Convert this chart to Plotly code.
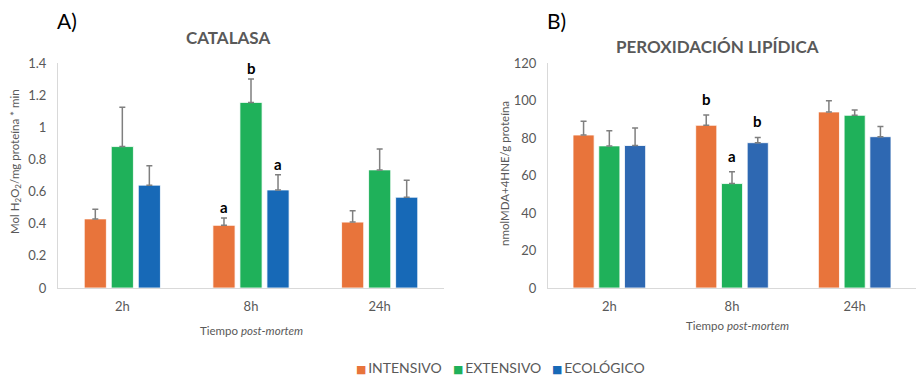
import plotly.graph_objects as go

# ---- data ----
times = ["2h", "8h", "24h"]
series_names = ["INTENSIVO", "EXTENSIVO", "ECOLÓGICO"]

cat_int = [0.43, 0.39, 0.41]
cat_ext = [0.88, 1.155, 0.735]
cat_eco = [0.64, 0.61, 0.565]
cat_int_err = [0.06, 0.045, 0.07]
cat_ext_err = [0.245, 0.145, 0.13]
cat_eco_err = [0.12, 0.095, 0.105]
cat_int_letters = ["", "a", ""]
cat_ext_letters = ["", "b", ""]
cat_eco_letters = ["", "a", ""]

per_int = [81.6, 86.8, 93.9]
per_ext = [75.8, 55.7, 92.1]
per_eco = [76.0, 77.5, 80.7]
per_int_err = [7.3, 5.5, 5.9]
per_ext_err = [8.1, 6.3, 2.9]
per_eco_err = [9.3, 2.8, 5.5]
per_int_letters = ["", "b", ""]
per_ext_letters = ["", "a", ""]
per_eco_letters = ["", "b", ""]

cat_ticks = [0, 0.2, 0.4, 0.6, 0.8, 1, 1.2, 1.4]
cat_ticktext = ["0", "0.2", "0.4", "0.6", "0.8", "1", "1.2", "1.4"]
per_ticks = [0, 20, 40, 60, 80, 100, 120]

# ---- styles ----
colors_left = ["#E8743B", "#1FB15A", "#1769B7"]
colors_right = ["#E8743B", "#1FB15A", "#2E68B2"]
FONT = "Lato"
GRAY = "#595959"
W, H = 916, 378
BARGAP = 0.37
BGG = 0.18


def px(xp):
    return xp / W


def py(yp):
    return 1 - yp / H


fig = go.Figure()

left = [(cat_int, cat_int_err, cat_int_letters), (cat_ext, cat_ext_err, cat_ext_letters),
        (cat_eco, cat_eco_err, cat_eco_letters)]
right = [(per_int, per_int_err, per_int_letters), (per_ext, per_ext_err, per_ext_letters),
         (per_eco, per_eco_err, per_eco_letters)]

for i, (vals, errs, _) in enumerate(left):
    fig.add_trace(go.Bar(
        x=times, y=vals, name=series_names[i],
        marker=dict(color=colors_left[i], line=dict(color="white", width=0.8)),
        error_y=dict(type="data", array=errs, arrayminus=[0] * len(errs), symmetric=False,
                     color="#7f7f7f", thickness=1.5, width=3),
        xaxis="x", yaxis="y", showlegend=False))

for i, (vals, errs, _) in enumerate(right):
    fig.add_trace(go.Bar(
        x=times, y=vals, name=series_names[i],
        marker=dict(color=colors_right[i], line=dict(color="white", width=0.8)),
        error_y=dict(type="data", array=errs, arrayminus=[0] * len(errs), symmetric=False,
                     color="#7f7f7f", thickness=1.5, width=3),
        xaxis="x2", yaxis="y2", showlegend=False))

annotations = []
slot = (1 - BARGAP) / 3
for (axx, axy, data, shift) in [("x", "y", left, 0), ("x2", "y2", right, 5)]:
    for si, (vals, errs, letters) in enumerate(data):
        for ci, lt in enumerate(letters):
            if lt:
                annotations.append(dict(
                    x=ci + (si - 1) * slot, y=vals[ci] + errs[ci], xref=axx, yref=axy,
                    text="<b>%s</b>" % lt, showarrow=False, yanchor="bottom", yshift=shift,
                    font=dict(family=FONT, size=15, color="black")))

# legend entries (Excel-style compact legend)
legend_x = [354, 451, 550]
for name, col, lx in zip(series_names, colors_left, legend_x):
    annotations.append(dict(
        text=('<span style="color:%s;font-family:DejaVu Sans;font-size:11px">■</span>'
              '&#8201;%s') % (col, name),
        x=px(lx), y=py(367), xref="paper", yref="paper", xanchor="left", yanchor="middle",
        showarrow=False, font=dict(family=FONT, size=14, color=GRAY)))

annotations += [
    dict(text="A)", x=px(55), y=py(20), xref="paper", yref="paper", xanchor="left",
         yanchor="middle", showarrow=False, font=dict(family=FONT, size=21, color="black")),
    dict(text="B)", x=px(545), y=py(20), xref="paper", yref="paper", xanchor="left",
         yanchor="middle", showarrow=False, font=dict(family=FONT, size=21, color="black")),
    dict(text="<b>CATALASA</b>", x=px(228), y=py(37), xref="paper", yref="paper",
         xanchor="center", yanchor="middle", showarrow=False,
         font=dict(family=FONT, size=17, color=GRAY)),
    dict(text="<b>PEROXIDACIÓN LIPÍDICA</b>", x=px(717), y=py(47), xref="paper", yref="paper",
         xanchor="center", yanchor="middle", showarrow=False,
         font=dict(family=FONT, size=17, color=GRAY)),
    dict(text="Mol H<sub>2</sub>O<sub>2</sub>/mg proteína * min", x=px(15), y=py(162),
         xref="paper", yref="paper", xanchor="center", yanchor="middle", textangle=-90,
         showarrow=False, font=dict(family=FONT, size=11.5, color=GRAY)),
    dict(text="nmolMDA+4HNE/g proteína", x=px(505), y=py(174),
         xref="paper", yref="paper", xanchor="center", yanchor="middle", textangle=-90,
         showarrow=False, font=dict(family=FONT, size=11.5, color=GRAY)),
    dict(text="Tiempo <i>post-mortem</i>", x=px(252), y=py(330), xref="paper", yref="paper",
         xanchor="center", yanchor="middle", showarrow=False,
         font=dict(family=FONT, size=11.5, color=GRAY)),
    dict(text="Tiempo <i>post-mortem</i>", x=px(737), y=py(325), xref="paper", yref="paper",
         xanchor="center", yanchor="middle", showarrow=False,
         font=dict(family=FONT, size=11.5, color=GRAY)),
]

axis_common = dict(showgrid=False, zeroline=False, showline=True, linecolor="#d9d9d9",
                   linewidth=1, ticks="", automargin=False,
                   tickfont=dict(family=FONT, size=13, color=GRAY))

ydom = [py(288), py(63)]

fig.update_layout(
    autosize=True, margin=dict(l=0, r=0, t=0, b=0, pad=0),
    paper_bgcolor="white", plot_bgcolor="white",
    barmode="group", bargap=BARGAP, bargroupgap=BGG,
    font=dict(family=FONT, color=GRAY),
    showlegend=False,
    xaxis=dict(domain=[px(58), px(444)], anchor="y", type="category",
               ticklabelstandoff=6, **axis_common),
    yaxis=dict(range=[0, 1.4], tickvals=cat_ticks, ticktext=cat_ticktext, anchor="x",
               domain=ydom, ticklabelstandoff=8, **axis_common),
    xaxis2=dict(domain=[px(548), 1.0], anchor="y2", type="category",
                ticklabelstandoff=6, **axis_common),
    yaxis2=dict(range=[0, 120], tickvals=per_ticks, anchor="x2",
                domain=ydom, ticklabelstandoff=8, **axis_common),
    annotations=annotations,
)

js = ("document.documentElement.style.margin='0';"
      "document.documentElement.style.overflow='hidden';"
      "document.body.style.margin='0';document.body.style.padding='0';"
      "document.body.style.overflow='hidden';")
fig.write_html("out.html", post_script=js, default_width="100vw", default_height="100vh",
               config={"displayModeBar": False, "responsive": True})
